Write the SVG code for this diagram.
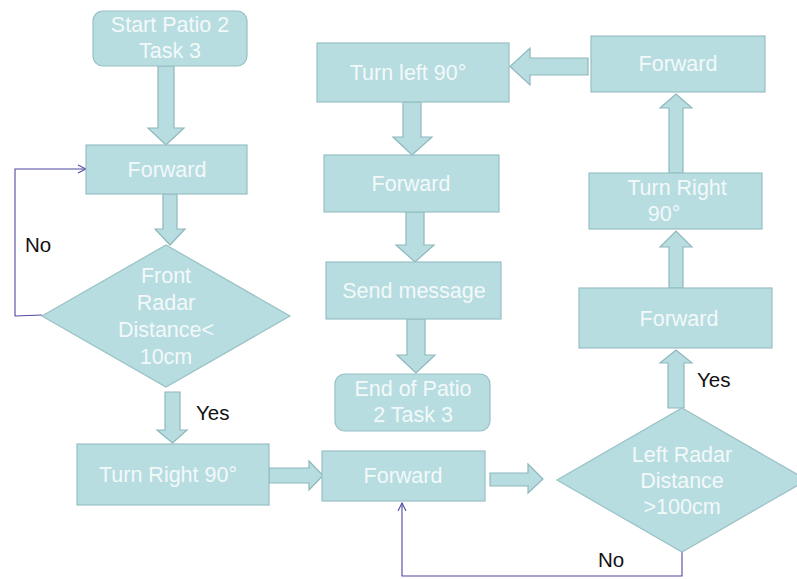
<svg xmlns="http://www.w3.org/2000/svg" width="797" height="579" viewBox="0 0 797 579">
  <style>
    .box { fill: #b7dde1; stroke: #98c0c4; stroke-width: 1.2; }
    .arrow { fill: #b7dde1; stroke: #8fb8bc; stroke-width: 1.2; stroke-linejoin: miter; }
    .lbl { font-family: "Liberation Sans", Arial, sans-serif; font-size: 21.5px; fill: #f3f9f9; text-anchor: middle; dominant-baseline: central; }
    .note { font-family: "Liberation Sans", Arial, sans-serif; font-size: 20.5px; fill: #111111; dominant-baseline: central; }
    .loop { fill: none; stroke: #4f48a3; stroke-width: 1.1; }
  </style>
  <defs>
    <marker id="open" viewBox="0 0 10 10" refX="9" refY="5" markerWidth="10" markerHeight="10" markerUnits="userSpaceOnUse" orient="auto">
      <path d="M1,1 L9,5 L1,9" fill="none" stroke="#4f48a3" stroke-width="1.1"/>
    </marker>
  </defs>
  <rect width="797" height="579" fill="#ffffff"/>

  <!-- block arrows and loop-back lines -->
  <g id="connectors">
    <polygon class="arrow" points="158,66 174,66 174,128 184,128 166,145 148,128 158,128"/>
    <polygon class="arrow" points="163,194 177,194 177,229 185,229 170,245 155,229 163,229"/>
    <polygon class="arrow" points="165,392 180,392 180,430 187,430 172.5,443 157,430 165,430"/>
    <polygon class="arrow" points="269,468 309,468 309,461 323,475.5 309,490 309,483 269,483"/>
    <polygon class="arrow" points="490,473 528,473 528,464 543,479 528,493 528,486 490,486"/>
    <polygon class="arrow" points="668,408 668,363 660,363 676,350 692,363 684,363 684,408"/>
    <polygon class="arrow" points="669,288 669,247 660,247 676,231 692,247 683,247 683,288"/>
    <polygon class="arrow" points="669,173 669,108 660,108 676,94 692,108 683,108 683,173"/>
    <polygon class="arrow" points="588,58 530,58 530,48 510,66.5 530,85 530,75 588,75"/>
    <polygon class="arrow" points="403,102 421,102 421,137 432,137 412,155 393,137 403,137"/>
    <polygon class="arrow" points="406,212 424,212 424,245 434,245 415,262 396,245 406,245"/>
    <polygon class="arrow" points="407,319 425,319 425,355 435,355 416,373 397,355 407,355"/>
    <polyline class="loop" points="42,315 15,316 15,169 86,169" marker-end="url(#open)"/>
    <polyline class="loop" points="682,552 682,576 402,576 402,503" marker-end="url(#open)"/>
  </g>

  <g id="start">
    <rect class="box" x="93" y="11" width="154" height="55" rx="10"/>
    <text class="lbl" x="170" y="25">Start Patio 2</text>
    <text class="lbl" x="170" y="51">Task 3</text>
  </g>
  <g id="forward1">
    <rect class="box" x="86" y="145" width="161" height="49"/>
    <text class="lbl" x="167" y="170">Forward</text>
  </g>
  <g id="front-radar">
    <polygon class="box" points="166,245 290,316 166,387 42,316"/>
    <text class="lbl" x="166" y="276">Front</text>
    <text class="lbl" x="166" y="303">Radar</text>
    <text class="lbl" x="166" y="330">Distance&lt;</text>
    <text class="lbl" x="166" y="357">10cm</text>
  </g>
  <g id="turn-right1">
    <rect class="box" x="77" y="444" width="192" height="61"/>
    <text class="lbl" x="168" y="475">Turn Right 90°</text>
  </g>
  <g id="forward2">
    <rect class="box" x="322" y="451" width="163" height="50"/>
    <text class="lbl" x="403" y="476">Forward</text>
  </g>
  <g id="left-radar">
    <polygon class="box" points="682,408 807,480 682,552 557,480"/>
    <text class="lbl" x="682" y="455">Left Radar</text>
    <text class="lbl" x="682" y="481">Distance</text>
    <text class="lbl" x="682" y="507">&gt;100cm</text>
  </g>
  <g id="forward3">
    <rect class="box" x="579" y="288" width="193" height="60"/>
    <text class="lbl" x="679" y="319">Forward</text>
  </g>
  <g id="turn-right2">
    <rect class="box" x="589" y="173" width="173" height="56"/>
    <text class="lbl" x="677" y="188">Turn Right</text>
    <text class="lbl" x="664" y="214">90°</text>
  </g>
  <g id="forward4">
    <rect class="box" x="591" y="36" width="174" height="56"/>
    <text class="lbl" x="678" y="64">Forward</text>
  </g>
  <g id="turn-left">
    <rect class="box" x="317" y="43" width="192" height="59"/>
    <text class="lbl" x="408" y="73">Turn left 90°</text>
  </g>
  <g id="forward5">
    <rect class="box" x="324" y="155" width="175" height="57"/>
    <text class="lbl" x="411" y="184">Forward</text>
  </g>
  <g id="send-message">
    <rect class="box" x="326" y="262" width="175" height="57"/>
    <text class="lbl" x="414" y="291">Send message</text>
  </g>
  <g id="end">
    <rect class="box" x="335" y="374" width="155" height="57" rx="10"/>
    <text class="lbl" x="413" y="389">End of Patio</text>
    <text class="lbl" x="413" y="415">2 Task 3</text>
  </g>

  <g id="labels">
    <text class="note" x="25" y="244">No</text>
    <text class="note" x="196" y="412">Yes</text>
    <text class="note" x="697" y="379">Yes</text>
    <text class="note" x="598" y="559">No</text>
  </g>
</svg>
